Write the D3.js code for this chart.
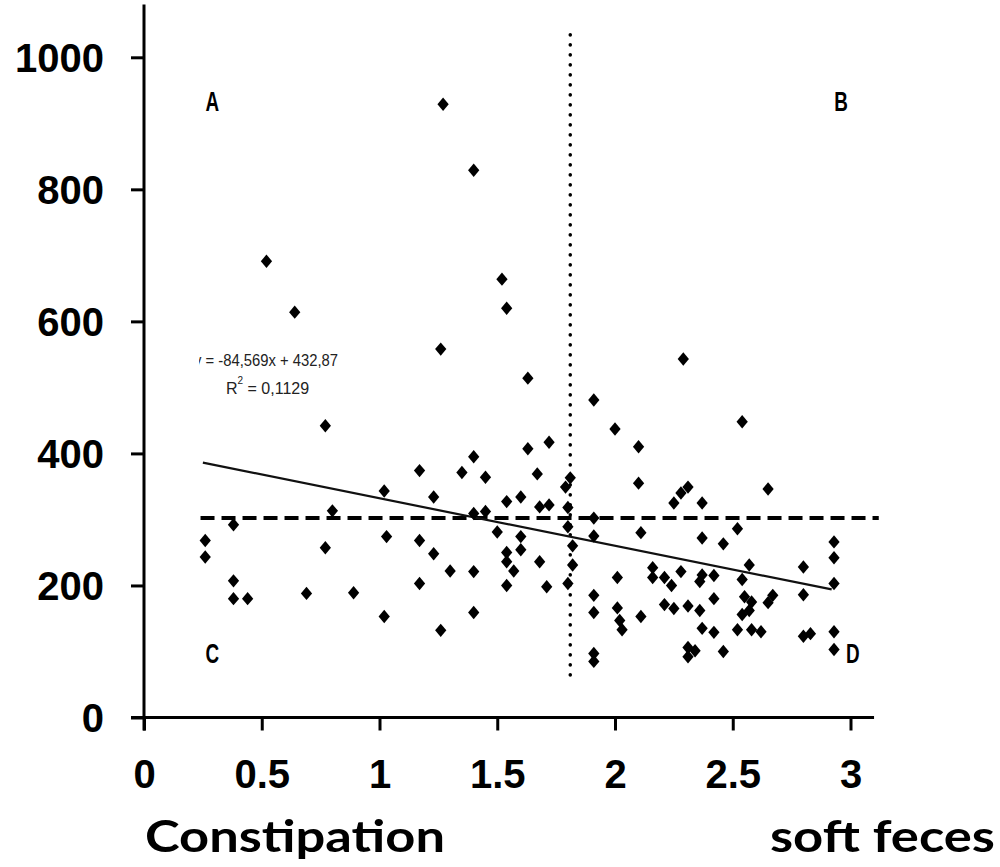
<!DOCTYPE html>
<html>
<head>
<meta charset="utf-8">
<script src="https://cdn.jsdelivr.net/npm/d3@7"></script>
<style>
  body { margin: 0; background: #fff; }
  svg { display: block; }
</style>
</head>
<body>
<div id="chart"></div>
<script>
// stool score (x) vs. value (y), one diamond per subject
var xValues = [
  0.26, 0.26, 0.38, 0.38, 0.38, 0.44, 0.52, 0.64, 0.69, 0.77,
  0.77, 0.80, 0.89, 1.02, 1.02, 1.03, 1.17, 1.17, 1.17, 1.23,
  1.23, 1.26, 1.26, 1.27, 1.30, 1.35, 1.40, 1.40, 1.40, 1.40,
  1.40, 1.45, 1.45, 1.50, 1.52, 1.54, 1.54, 1.54, 1.54, 1.54,
  1.57, 1.60, 1.60, 1.60, 1.63, 1.63, 1.67, 1.68, 1.68, 1.71,
  1.72, 1.72, 1.79, 1.81, 1.80, 1.80, 1.82, 1.82, 1.80,
  1.91, 1.91, 1.91, 1.91, 1.91, 1.91, 1.91, 2.00, 2.01, 2.01,
  2.02, 2.03, 2.10, 2.10, 2.11, 2.11, 2.16, 2.16, 2.21, 2.21,
  2.24, 2.25, 2.25, 2.28, 2.28, 2.29, 2.31, 2.31, 2.31, 2.31,
  2.34, 2.36, 2.36, 2.37, 2.37, 2.37, 2.37, 2.42, 2.42, 2.42,
  2.46, 2.46, 2.52, 2.52, 2.54, 2.54, 2.54, 2.55, 2.57, 2.57,
  2.58, 2.58, 2.62, 2.65, 2.65, 2.67, 2.80, 2.80, 2.80, 2.83,
  2.93, 2.93, 2.93, 2.93, 2.93
];
var yValues = [
  268, 243, 292, 207, 180, 180, 691, 614, 188, 442,
  257, 313, 189, 343, 153, 274, 374, 268, 203, 334,
  248, 558, 132, 929, 222, 371, 395, 829, 309, 221,
  159, 364, 312, 281, 664, 620, 327, 250, 236, 200,
  222, 334, 274, 254, 514, 407, 369, 319, 236, 198,
  417, 322, 349, 363, 318, 289, 260, 231, 203,
  481, 302, 275, 185, 159, 97, 85, 437, 212, 166,
  147, 133, 410, 355, 280, 153, 227, 212, 212, 171,
  200, 325, 165, 340, 221, 543, 349, 169, 106, 92,
  101, 206, 162, 325, 272, 216, 135, 215, 180, 129,
  263, 100, 286, 133, 448, 209, 156, 183, 231, 162,
  175, 133, 130, 346, 174, 185, 228, 186, 123, 127,
  266, 242, 203, 130, 103
];

var xTicks = [0, 0.5, 1, 1.5, 2, 2.5, 3];
var yTicks = [0, 200, 400, 600, 800, 1000];

// fitted trend line (ends as drawn) and cut-off lines
var trendX = [0.25, 2.92];
var trendY = [386, 194];
var cutX = [1.81];          // vertical dotted line
var cutXRange = [50, 1034];
var cutY = [302];           // horizontal dashed line
var cutYRange = [0.24, 3.12];

var quadrants = [
  { name: "A", x: 0.29, y: 920 },
  { name: "B", x: 2.96, y: 920 },
  { name: "C", x: 0.29, y: 83 },
  { name: "D", x: 3.01, y: 83 }
];

var width = 1000, height = 867;

var x = d3.scaleLinear().domain([0, 3]).range([144, 850.5]);
var y = d3.scaleLinear().domain([0, 1000]).range([717.5, 57.3]);

var svg = d3.select("#chart").append("svg")
  .attr("width", width)
  .attr("height", height);

// diamond a bit wider than d3.symbolDiamond
var diamond = {
  draw: function(ctx, size) {
    var h = Math.sqrt(size) * 0.6, w = h * 0.84;
    ctx.moveTo(0, -h);
    ctx.lineTo(w, 0);
    ctx.lineTo(0, h);
    ctx.lineTo(-w, 0);
    ctx.closePath();
  }
};

// axes: thick lines, outside ticks
var axisY = d3.axisLeft(y).tickValues(yTicks).tickSize(13).tickFormat(d3.format("d"));
var axisX = d3.axisBottom(x).tickValues(xTicks).tickSize(13).tickFormat(function(d) { return d; });

var gy = svg.append("g").attr("transform", "translate(" + x(0) + ",0)").call(axisY);
var gx = svg.append("g").attr("transform", "translate(0," + y(0) + ")").call(axisX);

gy.select(".domain").remove();
gx.select(".domain").remove();

svg.append("line")
  .attr("x1", x(0)).attr("x2", x(0))
  .attr("y1", y(1080)).attr("y2", y(0) + 13)
  .attr("stroke", "#000").attr("stroke-width", 3);
svg.append("line")
  .attr("x1", x(0) - 13).attr("x2", x(3.1))
  .attr("y1", y(0)).attr("y2", y(0))
  .attr("stroke", "#000").attr("stroke-width", 3);

[gx, gy].forEach(function(g) {
  g.selectAll(".tick line").attr("stroke", "#000").attr("stroke-width", 3);
  g.selectAll(".tick text")
    .attr("fill", "#000")
    .style("font-family", "'Liberation Sans', Arial, sans-serif")
    .style("font-weight", "bold")
    .style("font-size", "40px");
});
gy.selectAll(".tick text").attr("x", -40).attr("dy", "0.36em");
gx.selectAll(".tick text").attr("y", 40).attr("dy", "0.76em");

// reference lines
svg.append("line")
  .attr("x1", x(cutX[0])).attr("x2", x(cutX[0]))
  .attr("y1", y(cutXRange[1])).attr("y2", y(cutXRange[0]))
  .attr("stroke", "#000").attr("stroke-width", 3.5)
  .attr("stroke-linecap", "round")
  .attr("stroke-dasharray", "0.1 9.9");

svg.append("line")
  .attr("x1", x(cutYRange[0])).attr("x2", x(cutYRange[1]))
  .attr("y1", y(cutY[0])).attr("y2", y(cutY[0]))
  .attr("stroke", "#000").attr("stroke-width", 4)
  .attr("stroke-dasharray", "14 7");

svg.append("line")
  .attr("x1", x(trendX[0])).attr("x2", x(trendX[1]))
  .attr("y1", y(trendY[0])).attr("y2", y(trendY[1]))
  .attr("stroke", "#111").attr("stroke-width", 2.2);

// points
svg.append("g").selectAll("path")
  .data(xValues.map(function(d, i) { return [d, yValues[i]]; }))
  .join("path")
  .attr("transform", function(d) { return "translate(" + x(d[0]) + "," + y(d[1]) + ")"; })
  .attr("d", d3.symbol().type(diamond).size(125))
  .attr("fill", "#000");

// regression label, left edge clipped like the original
svg.append("clipPath").attr("id", "eqclip")
  .append("rect").attr("x", 199).attr("y", 330).attr("width", 200).attr("height", 80);

var eq = svg.append("g").attr("clip-path", "url(#eqclip)")
  .style("font-family", "'Liberation Sans', Arial, sans-serif")
  .style("font-size", "16px")
  .attr("fill", "#222");

eq.append("text")
  .attr("x", 194).attr("y", 366)
  .attr("textLength", 144).attr("lengthAdjust", "spacingAndGlyphs")
  .text("y = -84,569x + 432,87");

var r2 = eq.append("text").attr("x", 226).attr("y", 394);
r2.append("tspan").text("R");
r2.append("tspan").attr("dy", -10).style("font-size", "10px").text("2");
r2.append("tspan").attr("dy", 10).text(" = 0,1129");

// quadrant letters
svg.append("g").selectAll("text")
  .data(quadrants)
  .join("text")
  .attr("transform", function(d) { return "translate(" + x(d.x) + "," + (y(d.y) + 0.5) + ") scale(0.7,1)"; })
  .attr("text-anchor", "middle")
  .style("font-family", "'Liberation Sans', Arial, sans-serif")
  .style("font-weight", "bold")
  .style("font-size", "27px")
  .text(function(d) { return d.name; });

// bottom captions
svg.append("text")
  .attr("x", 145).attr("y", 852)
  .attr("textLength", 300).attr("lengthAdjust", "spacingAndGlyphs")
  .style("font-family", "Lato, 'Noto Sans', sans-serif")
  .style("font-weight", "bold")
  .style("font-size", "44px")
  .text("Constipation");

svg.append("text")
  .attr("x", 770).attr("y", 852)
  .attr("textLength", 225).attr("lengthAdjust", "spacingAndGlyphs")
  .style("font-family", "Lato, 'Noto Sans', sans-serif")
  .style("font-weight", "bold")
  .style("font-size", "44px")
  .text("soft feces");
</script>
</body>
</html>
